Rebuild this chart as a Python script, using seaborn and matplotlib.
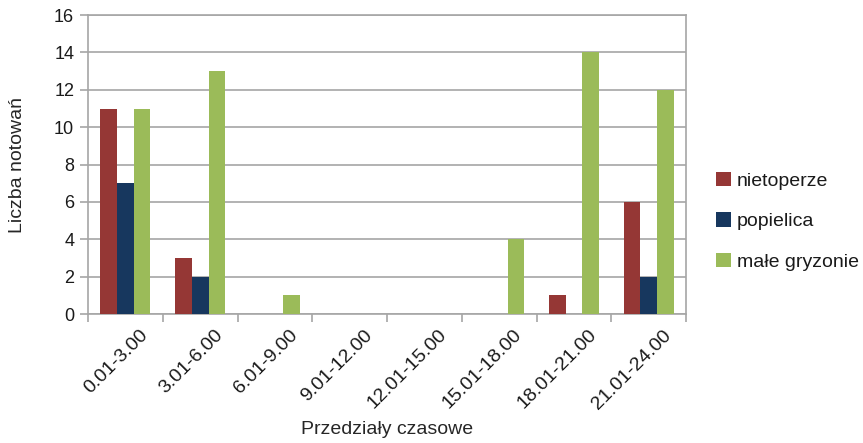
import matplotlib
matplotlib.use("Agg")
import matplotlib.pyplot as plt
import matplotlib.transforms as mtransforms
import seaborn as sns
import pandas as pd

categories = ["0.01-3.00", "3.01-6.00", "6.01-9.00", "9.01-12.00",
              "12.01-15.00", "15.01-18.00", "18.01-21.00", "21.01-24.00"]
series_names = ["nietoperze", "popielica", "małe gryzonie"]
nietoperze = [11, 3, 0, 0, 0, 0, 1, 6]
popielica = [7, 2, 0, 0, 0, 0, 0, 2]
male_gryzonie = [11, 13, 1, 0, 0, 4, 14, 12]
colors = ["#953735", "#17375E", "#9BBB59"]

rows = []
for name, vals in zip(series_names, [nietoperze, popielica, male_gryzonie]):
    for cat, v in zip(categories, vals):
        rows.append({"Przedział": cat, "Seria": name, "Liczba": v})
df = pd.DataFrame(rows)

sns.set_theme(style="white")
plt.rcParams["font.family"] = ["Liberation Sans", "DejaVu Sans"]
plt.rcParams["text.color"] = "#1a1a1a"

fig = plt.figure(figsize=(8.63, 4.43), dpi=100)
ax = fig.add_axes([0.102, 0.291, 0.693, 0.675])

sns.barplot(data=df, x="Przedział", y="Liczba", hue="Seria",
            order=categories, hue_order=series_names, palette=colors,
            width=0.67, saturation=1, ax=ax, zorder=3, edgecolor="none")

ax.set_ylim(0, 16)
ax.set_yticks(range(0, 17, 2))
ax.set_xlim(-0.5, len(categories) - 0.5)
ax.yaxis.grid(True, color="#A6A6A6", linewidth=1.2, zorder=0)
ax.set_axisbelow(True)
for s in ax.spines.values():
    s.set_color("#A6A6A6")
    s.set_linewidth(1.2)

# category boundary ticks on the x axis
ax.set_xticks([i - 0.5 for i in range(len(categories) + 1)], minor=True)
ax.tick_params(axis="x", which="minor", length=6, color="#A6A6A6", width=1.2,
               direction="out", bottom=True)
ax.tick_params(axis="x", which="major", length=0, labelsize=14, pad=9,
               labelcolor="#1a1a1a")
ax.tick_params(axis="y", length=6, color="#A6A6A6", width=1.2, direction="out",
               left=True, labelsize=13, pad=4, labelcolor="#1a1a1a")
ax.set_xticks(range(len(categories)))
ax.set_xticklabels(categories, rotation=45, ha="right", rotation_mode="anchor")
shift = mtransforms.ScaledTranslation(14 / 100, 0, fig.dpi_scale_trans)
for lbl in ax.get_xticklabels():
    lbl.set_transform(lbl.get_transform() + shift)

ax.set_xlabel("Przedziały czasowe", fontsize=14, labelpad=6)
ax.set_ylabel("Liczba notowań", fontsize=14, labelpad=20)

ax.legend(loc="center left", bbox_to_anchor=(1.021, 0.31), frameon=False,
          fontsize=14, handlelength=0.75, handleheight=0.75, labelspacing=1.15,
          handletextpad=0.3, title=None)

fig.savefig("out.png", dpi=100)
